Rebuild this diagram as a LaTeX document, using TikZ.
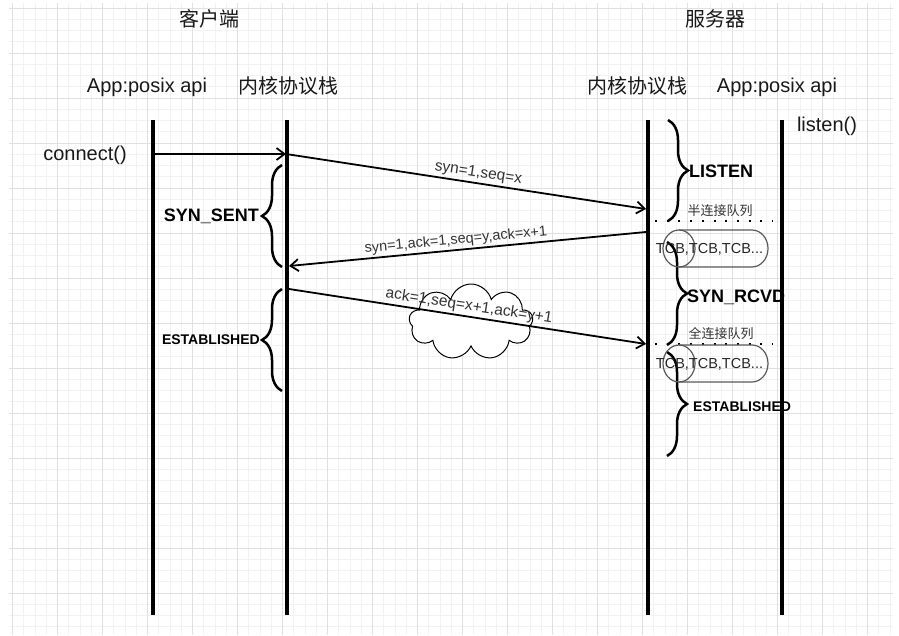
\documentclass[tikz,border=0pt]{standalone}
\usepackage{fontspec}
\setmainfont{Liberation Sans}
\newfontfamily\cjk{Noto Sans CJK SC}
\usepackage{tikz}
\usetikzlibrary{shapes,shapes.symbols,arrows.meta,positioning,decorations.pathreplacing}

\begin{document}
\begin{tikzpicture}[x=1pt,y=-1pt,
        >={Straight Barb[length=8pt,width=12pt]},
        gridminor/.style={gray!10,line width=1pt},
        gridmajor/.style={gray!24,line width=1pt},
        lifeline/.style={line width=4pt},
        msg/.style={->,line width=1.8pt},
        msglabel/.style={sloped,above,inner sep=2pt,text=black!80,font=\fontsize{15.5}{17}\selectfont},
        head/.style={inner sep=0pt,text=black!90,font=\fontsize{20}{24}\selectfont},
        cjkhead/.style={inner sep=0pt,text=black!90,font=\cjk\fontsize{20}{24}\selectfont},
        bracket/.style={line width=2.5pt,decorate,decoration={brace,amplitude=20pt}},
        state/.style={inner sep=0pt,font=\bfseries\fontsize{18}{20}\selectfont},
        smallstate/.style={inner sep=0pt,font=\bfseries\fontsize{14}{16}\selectfont},
        queue/.style={draw=black!65,line width=1.2pt},
        qtext/.style={inner sep=0pt,text=black!85,font=\fontsize{14.5}{16}\selectfont},
        qline/.style={line width=2pt,dash pattern=on 2pt off 9.7pt},
        qname/.style={inner sep=0pt,text=black!80,font=\cjk\fontsize{13}{15}\selectfont}]
    \useasboundingbox (0,0) rectangle (899,635);
    % background grid
    \foreach \i in {0,...,78} {
        \draw[gridminor] (12.7+\i*11.25,3) -- (12.7+\i*11.25,635);
    }
    \foreach \i in {0,...,55} {
        \draw[gridminor] (9,8+\i*11.25) -- (893,8+\i*11.25);
    }
    \foreach \i in {0,...,19} {
        \draw[gridmajor] (12.7+\i*45,3) -- (12.7+\i*45,635);
    }
    \foreach \i in {0,...,13} {
        \draw[gridmajor] (9,8+\i*45) -- (893,8+\i*45);
    }

    % headings
    \node[cjkhead] (client) at (209,19) {客户端};
    \node[cjkhead] (server) at (715,19) {服务器};
    \node[head] (capp) at (147,87) {App:posix api};
    \node[cjkhead] (ckern) at (288,86) {内核协议栈};
    \node[cjkhead] (skern) at (637,86) {内核协议栈};
    \node[head] (sapp) at (777,87) {App:posix api};
    \node[head] (connect) at (85,155) {connect()};
    \node[head] (listen) at (827,126) {listen()};

    % lifelines
    \draw[lifeline] (153,120) -- (153,615);
    \draw[lifeline] (287,120) -- (287,615);
    \draw[lifeline] (648,120) -- (648,615);
    \draw[lifeline] (782,120) -- (782,615);

    % arrow ends on the lifelines
    \coordinate (c0) at (155,154);
    \coordinate (k1) at (286,154);
    \coordinate (s1) at (646,209);
    \coordinate (s2) at (646,232);
    \coordinate (k2) at (289,266);
    \coordinate (k3) at (289,289);
    \coordinate (s3) at (646,344);

    \node[cloud,cloud puffs=9,aspect=1.6,draw,fill=white,line width=1pt,
        minimum width=124pt,minimum height=76pt] (net) at (471,322) {};

    \draw[msg] (c0) -- (k1);
    \draw[msg] (k1) -- node[msglabel,pos=0.53] {syn=1,seq=x} (s1);
    \draw[msg] (s2) -- node[msglabel,pos=0.53,font=\fontsize{14.5}{16}\selectfont] {syn=1,ack=1,seq=y,ack=x+1} (k2);
    \draw[msg] (k3) -- node[msglabel,pos=0.5] {ack=1,seq=x+1,ack=y+1} (s3);

    % client states
    \draw[bracket] (282,267) -- (282,165);
    \node[state,anchor=east] (synsent) at (259,216) {SYN\_SENT};
    \draw[bracket] (282,391) -- (282,289);
    \node[smallstate,anchor=east] (cest) at (260,340) {ESTABLISHED};

    % server states
    \draw[bracket] (668,120) -- (668,221);
    \node[state,anchor=west] (slisten) at (689,171) {LISTEN};
    \draw[bracket] (667,242) -- (667,345);
    \node[state,anchor=west] (synrcvd) at (687,297) {SYN\_RCVD};
    \draw[bracket] (667,352) -- (667,456);
    \node[smallstate,anchor=west] (sest) at (693,407) {ESTABLISHED};

    % queues
    \draw[qline] (655,221) -- (773,221);
    \node[qname] (halfname) at (720,211) {半连接队列};
    \draw[qline] (655,344) -- (773,344);
    \node[qname] (fullname) at (721,334) {全连接队列};
    \foreach \qy in {248.5,363.5} {
        \draw[queue] (679,\qy-18.5) -- (752,\qy-18.5)
            arc[start angle=-90,end angle=90,x radius=16,y radius=18.5] -- (679,\qy+18.5);
        \draw[queue] (679,\qy) ellipse [x radius=16,y radius=18.5];
    }
    \node[qtext] (halftcb) at (709.5,249) {TCB,TCB,TCB...};
    \node[qtext] (fulltcb) at (709.5,364) {TCB,TCB,TCB...};
\end{tikzpicture}
\end{document}
